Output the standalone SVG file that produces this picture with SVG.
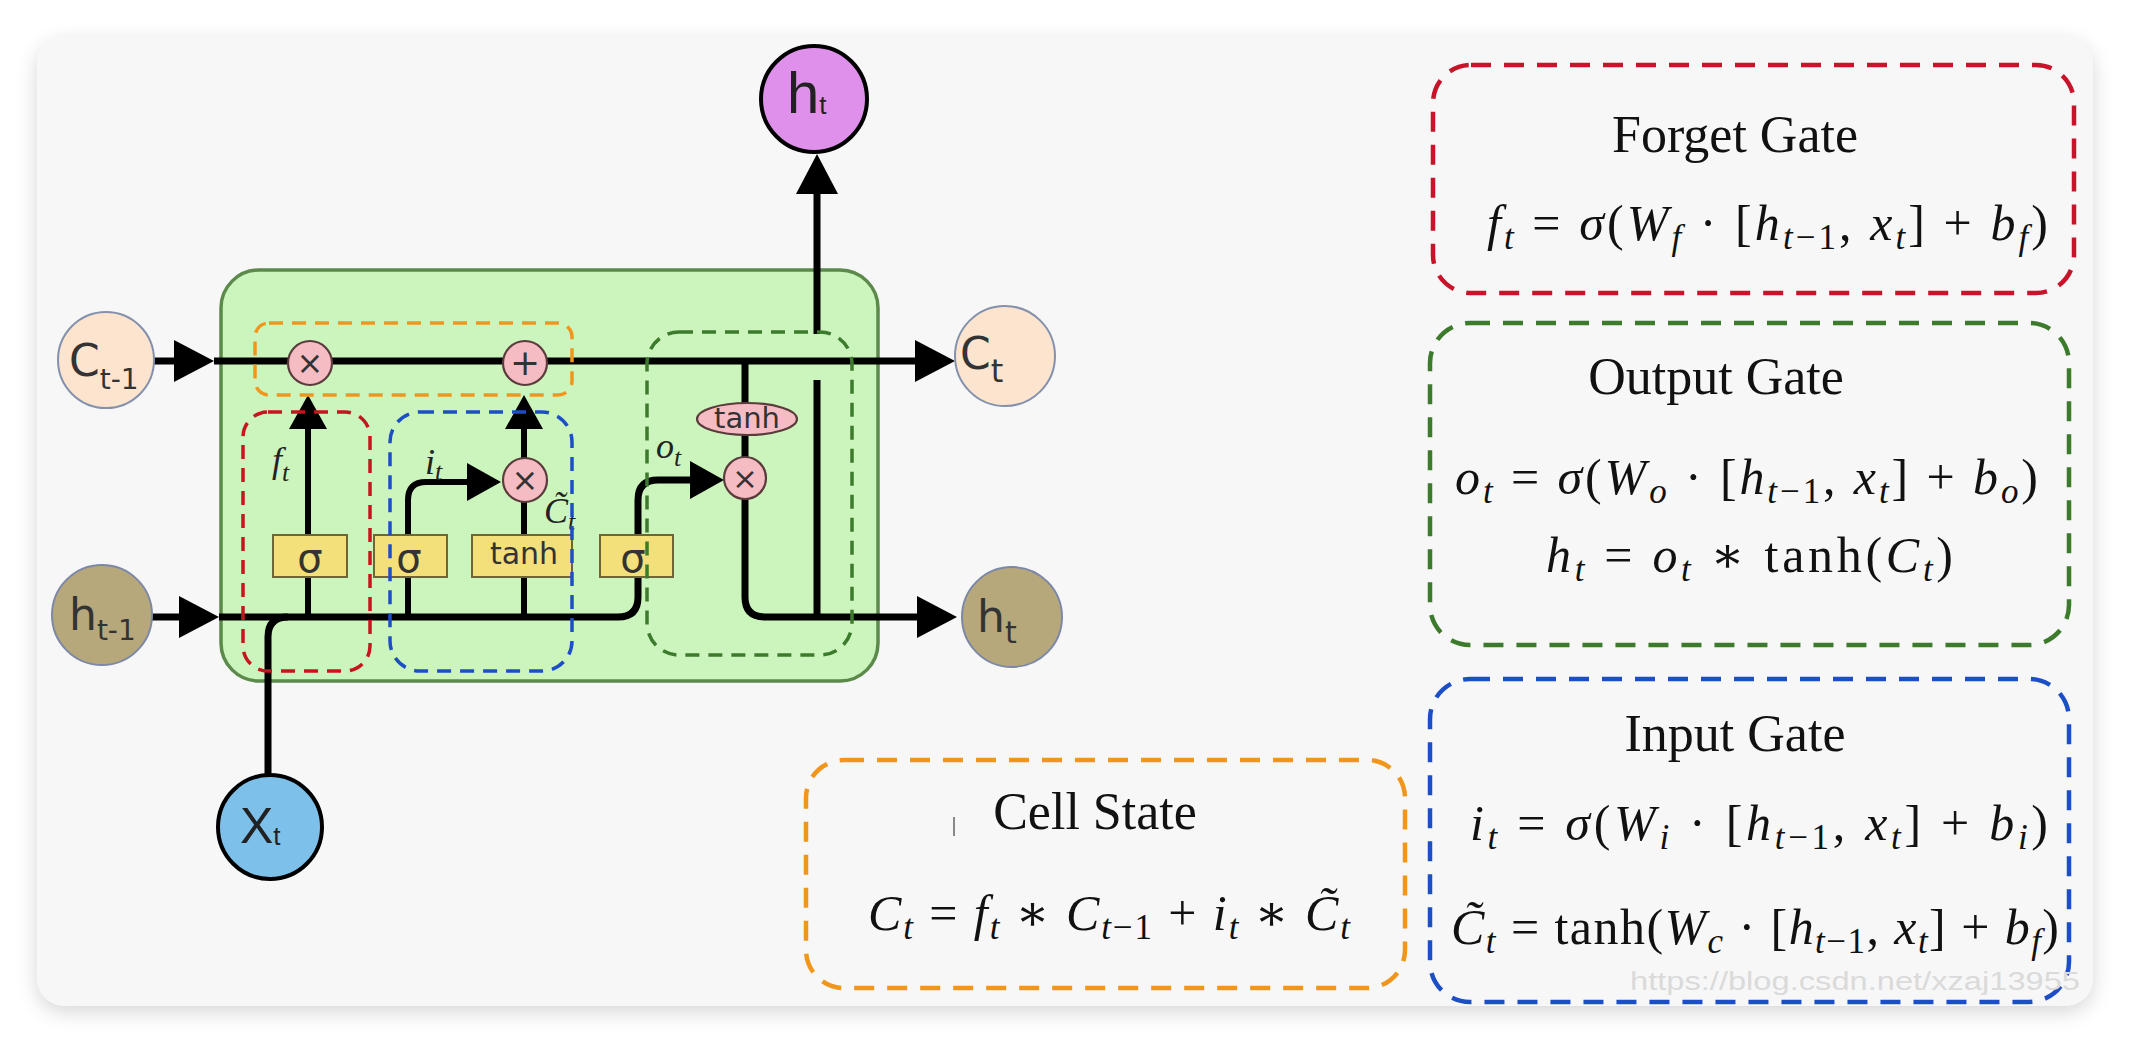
<svg xmlns="http://www.w3.org/2000/svg" width="2130" height="1042" viewBox="0 0 2130 1042">
<defs>
<filter id="shadow" x="-5%" y="-5%" width="110%" height="115%">
<feDropShadow dx="0" dy="6" stdDeviation="10" flood-color="#000" flood-opacity="0.16"/>
</filter>
<marker id="ahBig" markerUnits="userSpaceOnUse" viewBox="0 0 40 42" markerWidth="40" markerHeight="42" refX="0" refY="21" orient="auto"><path d="M0,0 L40,21 L0,42 z" fill="#000"/></marker>
<marker id="ahGate" markerUnits="userSpaceOnUse" viewBox="0 0 34 38" markerWidth="34" markerHeight="38" refX="0" refY="19" orient="auto"><path d="M0,0 L34,19 L0,38 z" fill="#000"/></marker>
</defs>
<style>
.ln{fill:none;stroke:#000;stroke-width:7;stroke-linecap:butt;stroke-linejoin:round}
.gl{fill:none;stroke:#000;stroke-width:6}
.nd{font-family:"DejaVu Sans",Verdana,sans-serif;fill:#333}
.nd2{font-family:"Liberation Sans",Arial,sans-serif;fill:#222}
.gate{fill:#f3e07a;stroke:#6e6636;stroke-width:2}
.op{fill:#f6bcc4;stroke:#5a3c3c;stroke-width:2.2}
.sym{font-family:"DejaVu Sans",sans-serif;fill:#333;text-anchor:middle}
.lab{font-family:"Liberation Serif","DejaVu Serif",serif;font-style:italic;fill:#222}
.dsh{fill:none;stroke-width:3.5;stroke-dasharray:14 9}
.fdsh{fill:none;stroke-width:4.5;stroke-dasharray:20 13}
.tt{font-family:"Liberation Serif","Times New Roman",serif;font-size:52px;fill:#111;text-anchor:middle}
.fm{font-family:"Liberation Serif","DejaVu Serif",serif;font-size:50px;fill:#111}
.i{font-style:italic}
.s{font-size:35px}
</style>
<rect width="2130" height="1042" fill="#ffffff"/>
<rect x="37" y="37" width="2056" height="969" rx="28" fill="#f7f7f7" filter="url(#shadow)"/>

<g id="cell-body">
<rect x="221" y="270" width="657" height="411" rx="38" fill="#ccf5bd" stroke="#5b8a4b" stroke-width="3.5"/>
</g>

<g id="connectors">
<path class="ln" d="M154,361 H174" marker-end="url(#ahBig)"/>
<path class="ln" d="M214,361 H915" marker-end="url(#ahBig)"/>
<path class="ln" d="M152,617 H179" marker-end="url(#ahBig)"/>
<path class="ln" d="M219,617 H618 Q638,617 638,597 V500 Q638,480 658,480 H690" marker-end="url(#ahGate)"/>
<path class="ln" d="M268,775 V637 Q268,617 288,617"/>
<path class="gl" d="M308,617 V429" marker-end="url(#ahGate)"/>
<path class="gl" d="M408,617 V500 Q408,482 426,482 H467" marker-end="url(#ahGate)"/>
<path class="gl" d="M524,617 V429" marker-end="url(#ahGate)"/>
<path class="ln" d="M745,361 V597 Q745,617 765,617 H917" marker-end="url(#ahBig)"/>
<path class="ln" d="M817,617 V380"/>
<path class="ln" d="M817,334 V194" marker-end="url(#ahBig)"/>
</g>

<g id="node-c-prev">
<circle cx="106" cy="360" r="48" fill="#fde4cf" stroke="#8391ad" stroke-width="2"/>
<text class="nd" x="69" y="376" font-size="44">C<tspan font-size="28" dy="13">t-1</tspan></text>
</g>
<g id="node-h-prev">
<circle cx="102" cy="615" r="50" fill="#b6a87b" stroke="#7d88a6" stroke-width="2"/>
<text class="nd" x="69" y="630" font-size="44">h<tspan font-size="28" dy="10">t-1</tspan></text>
</g>
<g id="node-x">
<circle cx="270" cy="827" r="52" fill="#7dc0ea" stroke="#000" stroke-width="4"/>
<text class="nd2" x="240" y="843" font-size="50">X<tspan font-size="26" dy="2">t</tspan></text>
</g>
<g id="node-c-out">
<circle cx="1005" cy="356" r="50" fill="#fde4cf" stroke="#8391ad" stroke-width="2"/>
<text class="nd" x="960" y="369" font-size="44">C<tspan font-size="32" dy="13">t</tspan></text>
</g>
<g id="node-h-out">
<circle cx="1012" cy="617" r="50" fill="#b6a87b" stroke="#7d88a6" stroke-width="2"/>
<text class="nd" x="977" y="632" font-size="44">h<tspan font-size="30" dy="11">t</tspan></text>
</g>
<g id="node-h-top">
<circle cx="814" cy="99" r="53" fill="#de90ea" stroke="#000" stroke-width="4"/>
<text class="nd2" x="787" y="113" font-size="58">h<tspan font-size="26" dy="1">t</tspan></text>
</g>

<g id="gate-forget-sigma">
<rect class="gate" x="273" y="535" width="74" height="42"/>
<text class="sym" x="310" y="572" font-size="40">σ</text>
</g>
<g id="gate-input-sigma">
<rect class="gate" x="374" y="535" width="73" height="42"/>
<text class="sym" x="409" y="572" font-size="40">σ</text>
</g>
<g id="gate-tanh">
<rect class="gate" x="472" y="535" width="100" height="42"/>
<text class="sym" x="524" y="564" font-size="30">tanh</text>
</g>
<g id="gate-output-sigma">
<rect class="gate" x="600" y="535" width="73" height="42"/>
<text class="sym" x="633" y="572" font-size="40">σ</text>
</g>
<g id="op-forget-mul">
<circle class="op" cx="310" cy="363" r="22"/>
<text class="sym" x="310" y="374" font-size="32">×</text>
</g>
<g id="op-add">
<circle class="op" cx="525" cy="363" r="22"/>
<text class="sym" x="525" y="375" font-size="36">+</text>
</g>
<g id="op-input-mul">
<circle class="op" cx="525" cy="480" r="22"/>
<text class="sym" x="525" y="491" font-size="32">×</text>
</g>
<g id="op-tanh">
<ellipse class="op" cx="747" cy="419" rx="50" ry="16"/>
<text class="sym" x="747" y="428" font-size="29">tanh</text>
</g>
<g id="op-output-mul">
<circle class="op" cx="745" cy="478" r="21"/>
<text class="sym" x="745" y="489" font-size="31">×</text>
</g>

<g id="labels">
<text class="lab" x="272" y="472" font-size="36">f<tspan font-size="26" dy="9">t</tspan></text>
<text class="lab" x="425" y="474" font-size="36">i<tspan font-size="26" dy="6">t</tspan></text>
<text class="lab" x="544" y="523" font-size="36">C&#x303;<tspan font-size="26" dy="7">t</tspan></text>
<text class="lab" x="656" y="458" font-size="36">o<tspan font-size="26" dy="8">t</tspan></text>
</g>

<g id="region-cell-state">
<rect class="dsh" x="255" y="323" width="317" height="72" rx="14" stroke="#f0961c"/>
</g>
<g id="region-forget">
<rect class="dsh" x="243" y="412" width="127" height="259" rx="25" stroke="#c8141e"/>
</g>
<g id="region-input">
<rect class="dsh" x="390" y="412" width="182" height="259" rx="30" stroke="#1c4fc6"/>
</g>
<g id="region-output">
<rect class="dsh" x="647" y="332" width="205" height="323" rx="32" stroke="#3c7a2c"/>
</g>

<g id="panel-forget">
<rect class="fdsh" x="1433" y="65" width="641" height="228" rx="38" stroke="#c8142a"/>
<text class="tt" x="1735" y="152">Forget Gate</text>
<text class="fm" x="1487" y="240" textLength="561" lengthAdjust="spacing"><tspan class="i">f</tspan><tspan class="s i" dy="9">t</tspan><tspan dy="-9"> = </tspan><tspan class="i">σ</tspan>(<tspan class="i">W</tspan><tspan class="s i" dy="9">f</tspan><tspan dy="-9"> · [</tspan><tspan class="i">h</tspan><tspan class="s" dy="9"><tspan class="i">t</tspan>−1</tspan><tspan dy="-9">, </tspan><tspan class="i">x</tspan><tspan class="s i" dy="9">t</tspan><tspan dy="-9">] + </tspan><tspan class="i">b</tspan><tspan class="s i" dy="9">f</tspan><tspan dy="-9">)</tspan></text>
</g>

<g id="panel-output">
<rect class="fdsh" x="1430" y="323" width="639" height="322" rx="40" stroke="#3c7a2c"/>
<text class="tt" x="1716" y="394">Output Gate</text>
<text class="fm" x="1455" y="494" textLength="583" lengthAdjust="spacing"><tspan class="i">o</tspan><tspan class="s i" dy="9">t</tspan><tspan dy="-9"> = </tspan><tspan class="i">σ</tspan>(<tspan class="i">W</tspan><tspan class="s i" dy="9">o</tspan><tspan dy="-9"> · [</tspan><tspan class="i">h</tspan><tspan class="s" dy="9"><tspan class="i">t</tspan>−1</tspan><tspan dy="-9">, </tspan><tspan class="i">x</tspan><tspan class="s i" dy="9">t</tspan><tspan dy="-9">] + </tspan><tspan class="i">b</tspan><tspan class="s i" dy="9">o</tspan><tspan dy="-9">)</tspan></text>
<text class="fm" x="1546" y="572" textLength="407" lengthAdjust="spacing"><tspan class="i">h</tspan><tspan class="s i" dy="9">t</tspan><tspan dy="-9"> = </tspan><tspan class="i">o</tspan><tspan class="s i" dy="9">t</tspan><tspan dy="-9"> ∗ tanh(</tspan><tspan class="i">C</tspan><tspan class="s i" dy="9">t</tspan><tspan dy="-9">)</tspan></text>
</g>

<g id="panel-input">
<rect class="fdsh" x="1430" y="679" width="639" height="323" rx="40" stroke="#1c4fc6"/>
<text class="tt" x="1735" y="751">Input Gate</text>
<text class="fm" x="1470" y="840" textLength="578" lengthAdjust="spacing"><tspan class="i">i</tspan><tspan class="s i" dy="9">t</tspan><tspan dy="-9"> = </tspan><tspan class="i">σ</tspan>(<tspan class="i">W</tspan><tspan class="s i" dy="9">i</tspan><tspan dy="-9"> · [</tspan><tspan class="i">h</tspan><tspan class="s" dy="9"><tspan class="i">t</tspan>−1</tspan><tspan dy="-9">, </tspan><tspan class="i">x</tspan><tspan class="s i" dy="9">t</tspan><tspan dy="-9">] + </tspan><tspan class="i">b</tspan><tspan class="s i" dy="9">i</tspan><tspan dy="-9">)</tspan></text>
<text class="fm" x="1451" y="944" textLength="608" lengthAdjust="spacing"><tspan class="i">C&#x303;</tspan><tspan class="s i" dy="9">t</tspan><tspan dy="-9"> = tanh(</tspan><tspan class="i">W</tspan><tspan class="s i" dy="9">c</tspan><tspan dy="-9"> · [</tspan><tspan class="i">h</tspan><tspan class="s" dy="9"><tspan class="i">t</tspan>−1</tspan><tspan dy="-9">, </tspan><tspan class="i">x</tspan><tspan class="s i" dy="9">t</tspan><tspan dy="-9">] + </tspan><tspan class="i">b</tspan><tspan class="s i" dy="9">f</tspan><tspan dy="-9">)</tspan></text>
</g>

<g id="panel-cell">
<rect class="fdsh" x="806" y="760" width="599" height="228" rx="38" stroke="#f0961c"/>
<line x1="954" y1="817" x2="954" y2="836" stroke="#888" stroke-width="2"/>
<text class="tt" x="1095" y="829">Cell State</text>
<text class="fm" x="868" y="930" textLength="482" lengthAdjust="spacing"><tspan class="i">C</tspan><tspan class="s i" dy="9">t</tspan><tspan dy="-9"> = </tspan><tspan class="i">f</tspan><tspan class="s i" dy="9">t</tspan><tspan dy="-9"> ∗ </tspan><tspan class="i">C</tspan><tspan class="s" dy="9"><tspan class="i">t</tspan>−1</tspan><tspan dy="-9"> + </tspan><tspan class="i">i</tspan><tspan class="s i" dy="9">t</tspan><tspan dy="-9"> ∗ </tspan><tspan class="i">C&#x303;</tspan><tspan class="s i" dy="9">t</tspan></text>
</g>

<text x="1630" y="990" font-family="Liberation Sans, Arial, sans-serif" font-size="26" fill="#dadada" textLength="450" lengthAdjust="spacingAndGlyphs">https://blog.csdn.net/xzaj13955</text>
</svg>
